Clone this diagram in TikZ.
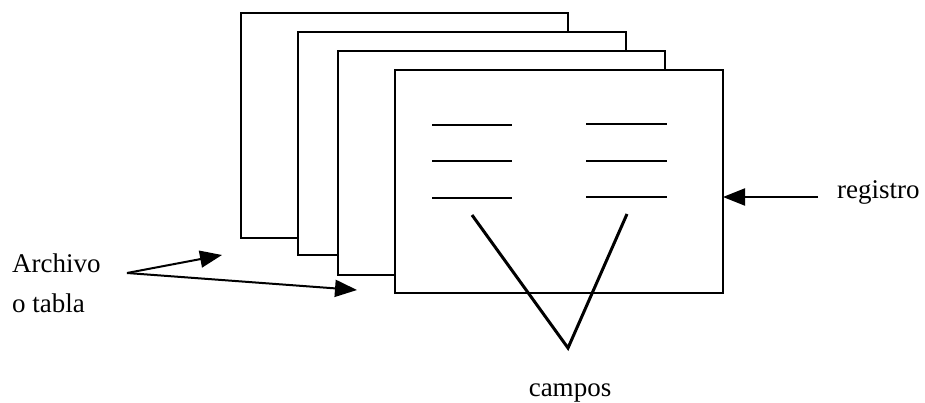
\documentclass[tikz,border=0pt]{standalone}
\usepackage{fontspec}
\setmainfont{Liberation Serif}
\usetikzlibrary{arrows.meta}
\begin{document}
\begin{tikzpicture}[x=1pt,y=-1pt,
  sheet/.style={draw, fill=white, line width=2.2pt, anchor=north west, inner sep=0pt, outer sep=0pt},
  field/.style={line width=2.3pt},
  fieldlink/.style={line width=3pt},
  pointer/.style={line width=2pt, -{Triangle[length=22pt,width=17pt]}},
  lbl/.style={font=\fontsize{27}{40}\selectfont, inner sep=0pt, align=left}]
\useasboundingbox (0,0) rectangle (925,403);

% stacked sheets of the file, back to front
\node[sheet, minimum width=327pt, minimum height=225pt] (s1) at (241,13) {};
\node[sheet, minimum width=328pt, minimum height=223pt] (s2) at (298,32) {};
\node[sheet, minimum width=327pt, minimum height=224pt] (s3) at (338,51) {};
\node[sheet, minimum width=328pt, minimum height=223pt] (s4) at (395,70) {};

% fields of the front record
\foreach \y in {125,161,198} {
  \draw[field] (432,\y) -- (512,\y);
}
\foreach \y in {124,161,197} {
  \draw[field] (586,\y) -- (667,\y);
}

% labels
\node[lbl, anchor=base west] (arch) at (12,312) {Archivo\\o tabla};
\node[lbl, anchor=base west] (reg) at (837,199) {registro};
\node[lbl, anchor=base] (camp) at (570,396) {campos};

% "campos" pointers
\coordinate (apex) at (568,348);
\coordinate (fl) at (472,215);
\coordinate (fr) at (627,214);
\draw[fieldlink] (fl) -- (apex) -- (fr);

% "Archivo o tabla" pointers
\coordinate (src) at (127,273);
\coordinate (t1) at (222,255);
\coordinate (t2) at (357,290);
\draw[pointer] (src) -- (t1);
\draw[pointer] (src) -- (t2);

% "registro" pointer
\coordinate (rs) at (818,197);
\draw[pointer] (rs) -- (s4.east |- rs);
\end{tikzpicture}
\end{document}
